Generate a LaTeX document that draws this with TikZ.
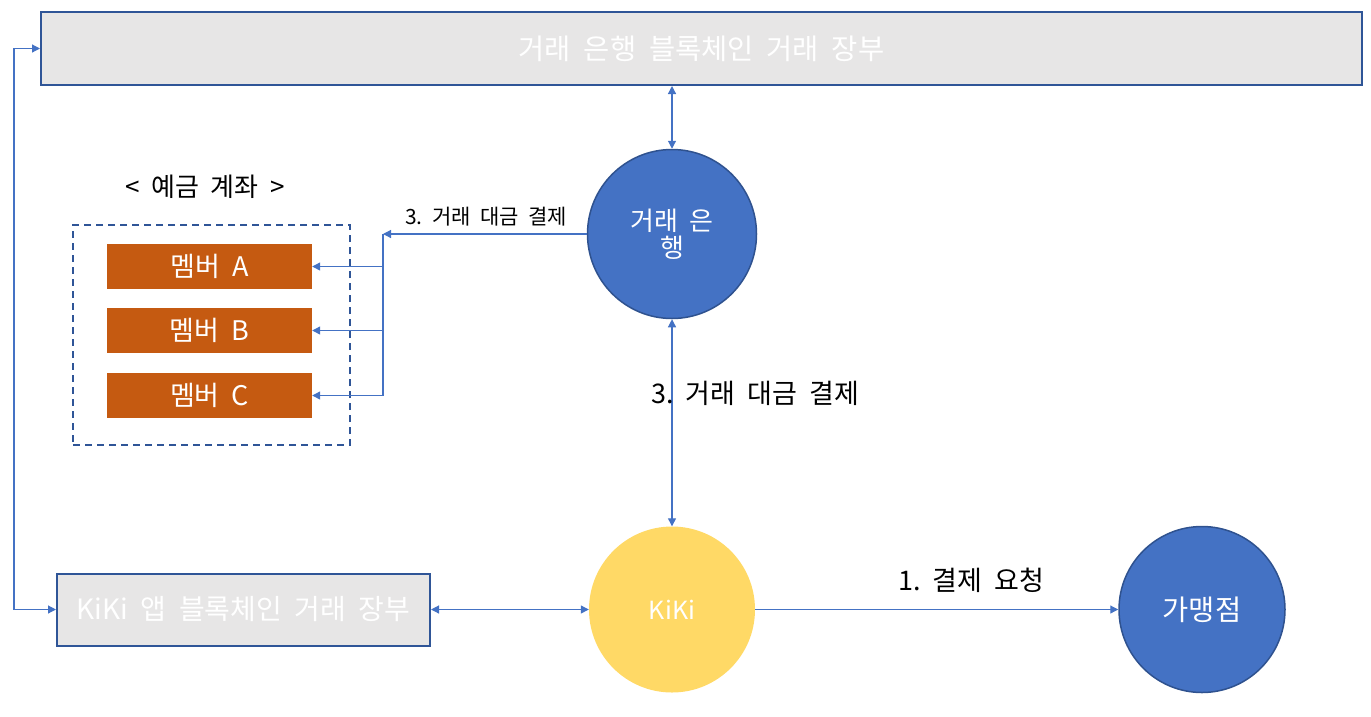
\documentclass[tikz,border=0pt]{standalone}
\usepackage{fontspec}
\setmainfont{Noto Sans CJK KR}[WordSpace=2]
\usetikzlibrary{arrows.meta}
\frenchspacing
\definecolor{lgray}{HTML}{E7E6E6}
\definecolor{dblue}{HTML}{2F5597}
\definecolor{mblue}{HTML}{4472C4}
\definecolor{cblue}{HTML}{2F528F}
\definecolor{orng}{HTML}{C55A11}
\definecolor{ylw}{HTML}{FFD966}
\tikzset{
  ledger/.style={draw=dblue, line width=2pt, fill=lgray, text=white, inner sep=0pt},
  circ/.style={circle, inner sep=0pt, text=white, align=center},
  member/.style={fill=orng, text=white, minimum width=205pt, minimum height=45pt, inner sep=0pt},
  conn/.style={draw=mblue, line width=1.2pt, arrows={-Triangle[length=8pt,width=8pt]}},
  conn2/.style={draw=mblue, line width=1.2pt, arrows={Triangle[length=8pt,width=8pt]-Triangle[length=8pt,width=8pt]}},
  plain/.style={draw=mblue, line width=1.2pt},
}
\newcommand{\fs}[1]{\fontsize{#1}{#1}\selectfont\frenchspacing}
\begin{document}
\begin{tikzpicture}[x=1pt,y=-1pt]
\useasboundingbox (0,0) rectangle (1371,716);
% ledgers
\node[ledger, minimum width=1321pt, minimum height=73pt] (top) at (701.5,48.5) {\fs{28.5}거래 은행 블록체인 거래 장부};
\node[ledger, minimum width=373pt, minimum height=72pt] (app) at (243.5,609.5) {\fs{28}KiKi 앱 블록체인 거래 장부};
% circles
\node[circ, fill=mblue, draw=cblue, line width=1.5pt, minimum size=169pt] (bank) at (672,234) {\fs{26}거래 은\\[2pt]\fs{26}행};
\node[circ, fill=ylw, minimum size=166pt] (kiki) at (672,609.5) {\fs{25}KiKi};
\node[circ, fill=mblue, draw=cblue, line width=1.5pt, minimum size=166pt] (shop) at (1202,609.5) {\fs{28.5}가맹점};
% accounts
\node[draw=dblue, line width=1.8pt, dash pattern=on 7pt off 5pt, minimum width=277pt, minimum height=220pt, inner sep=0pt] (acct) at (211.5,335) {};
\node (acctlabel) at (205,187) {\fs{26}< 예금 계좌 >};
\node[member] (memA) at (209.5,266.5) {\fs{27}멤버 A};
\node[member] (memB) at (209.5,330.5) {\fs{27}멤버 B};
\node[member] (memC) at (209.5,395.5) {\fs{27}멤버 C};
% connectors
\draw[conn2] (bank.north |- top.south) -- (bank.north);
\draw[conn2] (bank.south) -- (kiki.north);
\draw[conn2] (app.east) -- (kiki.west);
\draw[conn] (kiki.east) -- (shop.west);
\draw[conn2] (top.west) -- ++(-26,0) |- (app.west);
\coordinate (split) at (383,234);
\draw[conn] (bank.west) -- (split);
\draw[plain] (split) -- (split |- memC);
\draw[conn] (split |- memA) -- (memA.east);
\draw[conn] (split |- memB) -- (memB.east);
\draw[conn] (split |- memC) -- (memC.east);
% labels
\node[anchor=west, inner sep=0pt] (lbl1) at (651,393) {\fs{27}3. 거래 대금 결제};
\node[anchor=west, inner sep=0pt] (lbl2) at (405,217) {\fs{21}3. 거래 대금 결제};
\node[anchor=west, inner sep=0pt] (lbl3) at (898,580) {\fs{27}1. 결제 요청};
\end{tikzpicture}
\end{document}
